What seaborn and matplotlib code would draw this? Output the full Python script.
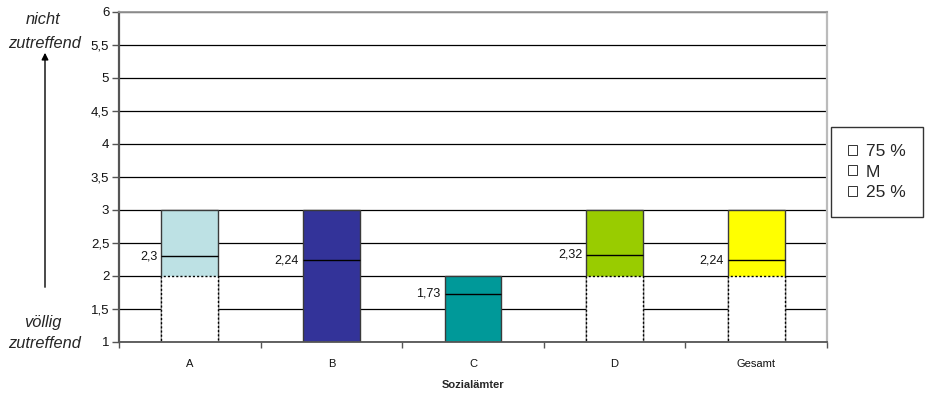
import numpy as np
import pandas as pd
import seaborn as sns
import matplotlib.pyplot as plt
from matplotlib.patches import Patch

# Quartile boxes per social welfare office (scale 1 = völlig zutreffend, 6 = nicht zutreffend)
categories = ["A", "B", "C", "D", "Gesamt"]
q25 = [2, 1, 1, 2, 2]
median = [2.3, 2.24, 1.73, 2.32, 2.24]
q75 = [3, 3, 2, 3, 3]
median_labels = ["2,3", "2,24", "1,73", "2,32", "2,24"]
bar_colors = ["#BDE1E4", "#333399", "#009999", "#99CC00", "#FFFF00"]
y_ticks = [1, 1.5, 2, 2.5, 3, 3.5, 4, 4.5, 5, 5.5, 6]
y_tick_labels = ["1", "1,5", "2", "2,5", "3", "3,5", "4", "4,5", "5", "5,5", "6"]
legend_labels = ["75 %", "M", "25 %"]

sns.set_theme(style="ticks")
plt.rcParams["font.family"] = ["Liberation Sans", "DejaVu Sans"]

fig = plt.figure(figsize=(9.27, 3.96), dpi=100)
W, H = 927, 396
ax = fig.add_axes([119 / W, 54 / H, (827 - 119) / W, 330 / H])

df = pd.DataFrame({"Sozialamt": categories, "q25": q25, "q75": q75, "M": median})

# upper part of the box (25 % .. 75 %), drawn from the axis floor and covered below by the 25 % bar
sns.barplot(data=df, x="Sozialamt", y="q75", hue="Sozialamt", palette=bar_colors,
            saturation=1, width=0.4, edgecolor="#3a3a3a", linewidth=1.0,
            legend=False, ax=ax, zorder=2)
box_bars = list(ax.patches)

# lower part up to the 25 % quartile: white with dotted outline
sns.barplot(data=df, x="Sozialamt", y="q25", color="white", saturation=1, width=0.4,
            edgecolor="black", linewidth=1.0, linestyle=(0, (1.5, 1.5)), ax=ax, zorder=2.1)

# median lines with value labels
for bar, m, lab in zip(box_bars, median, median_labels):
    x0 = bar.get_x()
    w = bar.get_width()
    ax.hlines(m, x0, x0 + w, color="black", lw=1.0, zorder=3)
    ax.annotate(lab, xy=(x0, m), xytext=(-3, 0), textcoords="offset points",
                ha="right", va="center", fontsize=9, color="#111111")

ax.set_ylim(1, 6)
ax.set_xlim(-0.5, len(categories) - 0.5)
ax.set_yticks(y_ticks)
ax.set_yticklabels(y_tick_labels, fontsize=9.5, color="#111111")
ax.yaxis.grid(True, color="black", lw=0.9)
ax.set_axisbelow(True)

ax.set_xticks(range(len(categories)))
ax.set_xticklabels(categories, fontsize=8, color="#111111")
ax.set_xticks(np.arange(-0.5, len(categories)), minor=True)
ax.tick_params(axis="x", which="major", length=0, pad=12)
ax.tick_params(axis="x", which="minor", length=4, width=1, color="#555555", direction="out")
ax.tick_params(axis="y", length=5, width=1, color="#555555", direction="out", pad=2)
ax.set_xlabel("Sozialämter", fontsize=8, fontweight="bold", labelpad=8)
ax.set_ylabel("")

for side, col, lw in [("left", "#555555", 1.6), ("bottom", "#555555", 1.3),
                      ("top", "#999999", 1.3), ("right", "#BBBBBB", 1.6)]:
    ax.spines[side].set_visible(True)
    ax.spines[side].set_color(col)
    ax.spines[side].set_linewidth(lw)

# scale direction annotation on the left
note_kw = dict(style="italic", fontsize=11.8, ha="center", va="center")
fig.text(43 / W, 1 - 20 / H, "nicht", **note_kw)
fig.text(45 / W, 1 - 44 / H, "zutreffend", **note_kw)
fig.text(43 / W, 1 - 322 / H, "völlig", **note_kw)
fig.text(45 / W, 1 - 343 / H, "zutreffend", **note_kw)
ax.annotate("", xy=(45, H - 50), xytext=(45, H - 290), xycoords="figure pixels",
            textcoords="figure pixels", annotation_clip=False,
            arrowprops=dict(arrowstyle="-|>", color="black", lw=1.0, mutation_scale=10))

handles = [Patch(facecolor="white", edgecolor="#333333", linewidth=0.7) for _ in legend_labels]
leg = fig.legend(handles, legend_labels, loc="upper left",
                 bbox_to_anchor=(831 / W, 1 - 127 / H), fontsize=12.5, frameon=True,
                 fancybox=False, edgecolor="black", handlelength=0.5, handleheight=0.5,
                 handletextpad=0.5, labelspacing=0.3, borderpad=1.0, borderaxespad=0)
leg.get_frame().set_linewidth(1.0)

fig.savefig("out.png", dpi=100)
